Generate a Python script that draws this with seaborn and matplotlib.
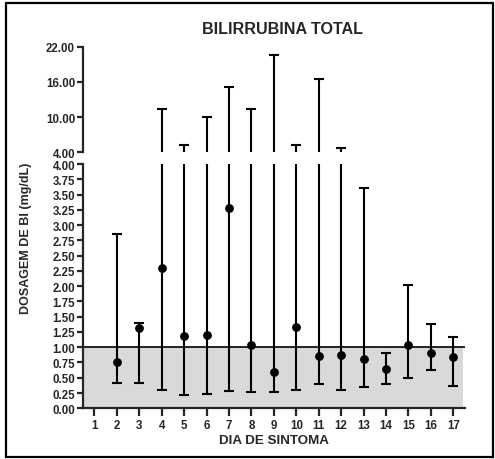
import numpy as np
import pandas as pd
import matplotlib
matplotlib.use("Agg")
import matplotlib.pyplot as plt
from matplotlib.patches import Rectangle
import seaborn as sns

# Bilirrubina total por dia de sintoma: mediana, mínimo e máximo
dias = [1, 2, 3, 4, 5, 6, 7, 8, 9, 10, 11, 12, 13, 14, 15, 16, 17]
medianas = [np.nan, 0.75, 1.32, 2.30, 1.18, 1.20, 3.28, 1.04, 0.60, 1.33,
            0.86, 0.87, 0.80, 0.64, 1.04, 0.90, 0.84]
minimos = [np.nan, 0.42, 0.42, 0.30, 0.21, 0.24, 0.28, 0.26, 0.27, 0.30,
           0.39, 0.30, 0.35, 0.39, 0.50, 0.62, 0.36]
maximos = [np.nan, 2.85, 1.40, 11.4, 5.3, 10.0, 15.1, 11.4, 20.6, 5.2,
           16.5, 4.7, 3.6, 0.90, 2.02, 1.38, 1.17]

limite_ref = 1.0
ticks_baixo = [0.00, 0.25, 0.50, 0.75, 1.00, 1.25, 1.50, 1.75, 2.00, 2.25,
               2.50, 2.75, 3.00, 3.25, 3.50, 3.75, 4.00]
ticks_alto = [4.00, 10.00, 16.00, 22.00]

df = pd.DataFrame({"dia": dias, "mediana": medianas,
                   "minimo": minimos, "maximo": maximos})

sns.set_style("ticks")
plt.rcParams["font.family"] = ["Liberation Sans", "DejaVu Sans"]
plt.rcParams["font.weight"] = "bold"

W, H = 495, 460
fig = plt.figure(figsize=(W / 100, H / 100), dpi=100)

def fx(px):
    return px / W

def fy(py):
    return 1 - py / H

left, right = 82.7, 465.0
ax_b = fig.add_axes([fx(left), fy(409.3), fx(right) - fx(left), fy(165.0) - fy(409.3)])
ax_t = fig.add_axes([fx(left), fy(153.3), fx(right) - fx(left), fy(47.7) - fy(153.3)])

d = df.dropna()
yerr = np.vstack([d["mediana"] - d["minimo"], d["maximo"] - d["mediana"]])

for ax in (ax_b, ax_t):
    ax.errorbar(d["dia"], d["mediana"], yerr=yerr, fmt="none", ecolor="black",
                elinewidth=1.5, capsize=3.8, capthick=1.5, zorder=3)
    sns.scatterplot(data=d, x="dia", y="mediana", ax=ax, color="black",
                    s=40, edgecolor="black", linewidth=0, zorder=4)
    ax.set_xlim(0.48, 17.52)
    ax.set_xlabel("")
    ax.set_ylabel("")
    for s in ax.spines.values():
        s.set_linewidth(1.6)
    ax.tick_params(axis="both", length=4.5, width=1.6, labelsize=8.3, pad=1.0)

# faixa de referência
ax_b.axhspan(0, limite_ref, xmin=0, xmax=0.995, color="#d9d9d9", zorder=0, lw=0)
ax_b.axhline(limite_ref, color="black", lw=1.2, zorder=2)

ax_b.set_ylim(0, 4)
ax_b.set_yticks(ticks_baixo)
ax_b.set_yticklabels([f"{v:.2f}" for v in ticks_baixo])
ax_b.set_xticks(dias)
ax_b.set_xticklabels([str(v) for v in dias])
ax_b.tick_params(axis="x", length=6, pad=2)
ax_b.spines["top"].set_visible(False)
ax_b.spines["right"].set_visible(False)

ax_t.set_ylim(4, 22)
ax_t.set_yticks(ticks_alto)
ax_t.set_yticklabels([f"{v:.2f}" for v in ticks_alto])
ax_t.set_xticks([])
for s in ("top", "right", "bottom"):
    ax_t.spines[s].set_visible(False)

for lbl in ax_b.get_xticklabels() + ax_b.get_yticklabels() + ax_t.get_yticklabels():
    lbl.set_fontweight("bold")

fig.text(fx(282), fy(30), "BILIRRUBINA TOTAL", ha="center", va="center",
         fontsize=11.6, fontweight="bold")
fig.text(fx(274), fy(441), "DIA DE SINTOMA", ha="center", va="center",
         fontsize=9.6, fontweight="bold")
fig.text(fx(26), fy(238), "DOSAGEM DE BI (mg/dL)", ha="center", va="center",
         rotation=90, fontsize=9, fontweight="bold")

fig.patches.append(Rectangle((fx(5.5), fy(458)), fx(493) - fx(5.5), fy(4) - fy(458),
                             transform=fig.transFigure, fill=False,
                             edgecolor="black", lw=1.6))

fig.savefig("out.png", dpi=100, facecolor="white")
